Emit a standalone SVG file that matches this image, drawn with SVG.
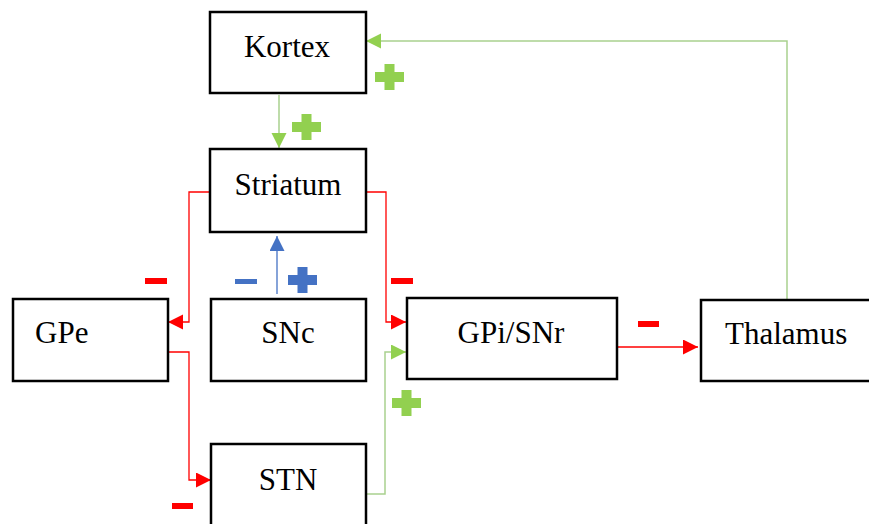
<svg xmlns="http://www.w3.org/2000/svg" width="869" height="524" viewBox="0 0 869 524">
<style>
.box{fill:#fff;stroke:#000;stroke-width:2.5}
.lbl{font-family:"Liberation Serif","Times New Roman",serif;font-size:31px;fill:#000}
.red{fill:none;stroke:#FF0000;stroke-width:1.3}
.grn{fill:none;stroke:#A9D18E;stroke-width:1.5}
.blu{fill:none;stroke:#4472C4;stroke-width:1.3}
</style>
<defs>
<marker id="aR" markerUnits="userSpaceOnUse" markerWidth="16" markerHeight="16" refX="15" refY="7.5" orient="auto"><path d="M0,0 L15,7.5 L0,15 z" fill="#FF0000"/></marker>
<marker id="aG" markerUnits="userSpaceOnUse" markerWidth="16" markerHeight="16" refX="15" refY="7.5" orient="auto"><path d="M0,0 L15,7.5 L0,15 z" fill="#92D050"/></marker>
<marker id="aB" markerUnits="userSpaceOnUse" markerWidth="16" markerHeight="16" refX="15" refY="7.5" orient="auto"><path d="M0,0 L15,7.5 L0,15 z" fill="#4472C4"/></marker>
<path id="plus" d="M9.5,0 h10 v8 h9.5 v10 h-9.5 v8 h-10 v-8 h-9.5 v-10 h9.5 z"/>
</defs>
<g id="connectors">
<line class="grn" x1="279" y1="95" x2="279" y2="148" marker-end="url(#aG)"/>
<polyline class="grn" points="787,300 787,41 366,41" marker-end="url(#aG)"/>
<polyline class="red" points="210,192 189,192 189,322 168,322" marker-end="url(#aR)"/>
<polyline class="red" points="366,192 386,192 386,322 406,322" marker-end="url(#aR)"/>
<line class="blu" x1="277" y1="294" x2="277" y2="236" marker-end="url(#aB)"/>
<polyline class="red" points="168,352 189,352 189,480 211,480" marker-end="url(#aR)"/>
<polyline class="grn" points="366,494 385,494 385,352 406,352" marker-end="url(#aG)"/>
<line class="red" x1="617" y1="347" x2="698" y2="347" marker-end="url(#aR)"/>
</g>
<g id="signs">
<use href="#plus" x="375" y="64" fill="#92D050"/>
<use href="#plus" x="292" y="114" fill="#92D050"/>
<use href="#plus" x="288" y="267" fill="#4472C4"/>
<use href="#plus" x="392" y="390" fill="#92D050"/>
<rect x="235" y="279" width="22" height="5" fill="#4472C4"/>
<rect x="145" y="278" width="22" height="6" fill="#FF0000"/>
<rect x="391" y="278" width="22" height="6" fill="#FF0000"/>
<rect x="172" y="503" width="21" height="6" fill="#FF0000"/>
<rect x="638" y="321" width="21" height="6" fill="#FF0000"/>
</g>
<g id="kortex"><rect class="box" x="210" y="12" width="156" height="81"/><text class="lbl" x="287" y="57" text-anchor="middle">Kortex</text></g>
<g id="striatum"><rect class="box" x="210" y="149" width="156" height="83"/><text class="lbl" x="288" y="195" text-anchor="middle">Striatum</text></g>
<g id="gpe"><rect class="box" x="13" y="299" width="155" height="82"/><text class="lbl" x="35" y="343">GPe</text></g>
<g id="snc"><rect class="box" x="211" y="299" width="155" height="82"/><text class="lbl" x="288" y="343" text-anchor="middle">SNc</text></g>
<g id="gpisnr"><rect class="box" x="407" y="298" width="210" height="81"/><text class="lbl" x="511" y="343" text-anchor="middle">GPi/SNr</text></g>
<g id="thalamus"><rect class="box" x="701" y="300" width="180" height="81"/><text class="lbl" x="725" y="344">Thalamus</text></g>
<g id="stn"><rect class="box" x="211" y="444" width="155" height="100"/><text class="lbl" x="288" y="490" text-anchor="middle">STN</text></g>
</svg>
